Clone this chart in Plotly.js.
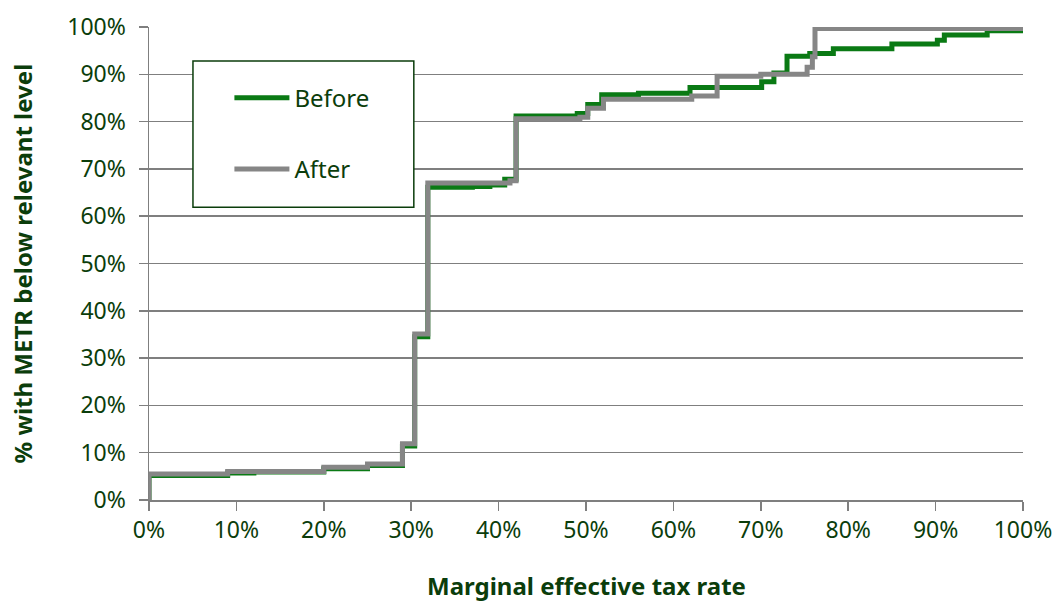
<!DOCTYPE html>
<html>
<head>
<meta charset="utf-8">
<script src="https://cdn.plot.ly/plotly-3.0.1.min.js"></script>
<style>html,body{margin:0;padding:0;background:#fff;}#chart{width:1058px;height:603px;}</style>
</head>
<body>
<div id="chart"></div>
<script>
// Marginal effective tax rate (%) at which each step occurs, and cumulative share (%) below it
const beforeRate  = [0, 0, 9, 12, 20, 25, 29, 30.4, 31.9, 37, 39, 40.7, 42, 49, 50.2, 51.8, 56, 61.9, 70.1, 71.5, 73, 75.6, 78.3, 85, 90.2, 91, 95.9, 100];
const beforeShare = [0, 5.2, 5.7, 5.9, 6.6, 7.3, 11.4, 34.5, 66.1, 66.3, 66.6, 67.8, 81.2, 81.7, 83.6, 85.7, 86.0, 87.2, 88.4, 90.3, 93.8, 94.4, 95.4, 96.4, 97.2, 98.3, 99.2, 99.4];

const afterRate  = [0, 0, 9, 20, 25, 29, 30.4, 31.9, 41.3, 42, 49.3, 50.2, 52, 62.1, 65, 70, 75.3, 75.9, 76.2, 100];
const afterShare = [0, 5.5, 6.0, 6.9, 7.6, 11.9, 35.1, 67.0, 67.5, 80.6, 80.9, 82.8, 84.7, 85.4, 89.6, 90.0, 91.5, 93.7, 99.7, 99.7];

const seriesNames = ["Before", "After"];
const xTitle = "Marginal effective tax rate";
const yTitle = "% with METR below relevant level";

const textColor = "#0b3d0b";
const greenColor = "#0a7a14";
const grayColor = "#868686";
const gridColor = "#7f7f7f";
const fontFamily = "'Noto Sans', 'Open Sans', sans-serif";

const traces = [
  {x: beforeRate, y: beforeShare, name: seriesNames[0], legendgroup: "a", mode: "lines",
   line: {shape: "hv", color: greenColor, width: 5}, cliponaxis: false},
  {x: afterRate, y: afterShare, name: seriesNames[1], legendgroup: "b", mode: "lines",
   line: {shape: "hv", color: grayColor, width: 5}, cliponaxis: false}
];

const layout = {
  width: 1058, height: 603, autosize: false,
  margin: {l: 149, r: 35, t: 27, b: 103},
  paper_bgcolor: "#fff", plot_bgcolor: "#fff",
  font: {family: fontFamily, color: textColor, size: 23},
  showlegend: true,
  legend: {x: 0.092, xanchor: "left", y: 0.897, yanchor: "top", bgcolor: "rgba(0,0,0,0)",
           borderwidth: 0, font: {size: 24, color: textColor}, itemwidth: 55, tracegroupgap: 37},
  xaxis: {range: [0, 100], dtick: 10, tick0: 0, ticksuffix: "%", ticks: "outside", ticklen: 9,
          tickcolor: gridColor, tickwidth: 1.5, showline: true, linecolor: gridColor, linewidth: 1.5,
          showgrid: false, zeroline: false, fixedrange: true, automargin: false,
          tickfont: {size: 23, color: textColor}},
  yaxis: {range: [0, 100], dtick: 10, tick0: 0, ticksuffix: "%", ticks: "outside", ticklen: 9,
          tickcolor: gridColor, tickwidth: 1.5, showline: true, linecolor: gridColor, linewidth: 1.5,
          showgrid: true, gridcolor: gridColor, gridwidth: 1.5, zeroline: false, fixedrange: true,
          automargin: false, ticklabelstandoff: 8,
          tickfont: {size: 23, color: textColor}},
  annotations: [
    {text: xTitle, xref: "paper", yref: "paper", x: 0.5, y: -0.18, xanchor: "center", yanchor: "middle",
     showarrow: false, font: {size: 24, color: textColor, weight: "bold"}},
    {text: yTitle, xref: "paper", yref: "paper", x: -0.1453, y: 0.5, xanchor: "center", yanchor: "middle",
     textangle: -90, showarrow: false, font: {size: 24, color: textColor, weight: "bold"}}
  ],
  shapes: [
    {type: "rect", xref: "paper", yref: "paper", x0: 0.0503, x1: 0.303, y0: 0.619, y1: 0.928,
     line: {color: textColor, width: 1.5}, fillcolor: "#fff", layer: "above"}
  ]
};

Plotly.newPlot("chart", traces, layout, {displayModeBar: false, staticPlot: true});
</script>
</body>
</html>
